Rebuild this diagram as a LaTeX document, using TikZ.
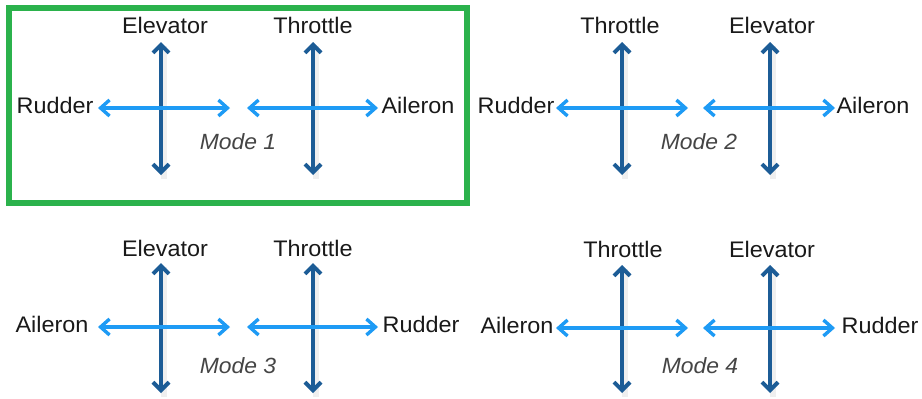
\documentclass[tikz,border=0pt]{standalone}
\usepackage{fontspec}
\setmainfont{Liberation Sans}[FakeStretch=1.04]
\usetikzlibrary{arrows.meta}
\definecolor{darkblue}{HTML}{1C5C96}
\definecolor{lightblue}{HTML}{1E9BF5}
\definecolor{framegreen}{HTML}{2BB24C}
\definecolor{modegray}{HTML}{454545}
\tikzset{
  lbl/.style={inner sep=0pt, font=\fontsize{22.5}{24}\selectfont, text=black!90},
  modelbl/.style={inner sep=0pt, font=\fontsize{22}{24}\selectfont\itshape, text=modegray},
  vshadow/.style={line width=6pt, draw=black!12, opacity=0.5},
  varrow/.style={line width=4pt, draw=darkblue, {Straight Barb[length=8pt,width=16pt]}-{Straight Barb[length=8pt,width=16pt]}},
  harrow/.style={line width=3.4pt, draw=lightblue, {Straight Barb[length=9pt,width=16pt]}-{Straight Barb[length=9pt,width=16pt]}},
  frame/.style={draw=framegreen, line width=5.5pt}
}
\begin{document}
\begin{tikzpicture}[x=1pt,y=-1pt]
\useasboundingbox[fill=white] (0,0) rectangle (922,399);
\draw[frame] (9,8) rectangle (467,203);

% ---------- Panel 1 ----------
\node[lbl] (p1top1) at (165,25) {Elevator};
\node[lbl] (p1top2) at (313,25) {Throttle};
\node[lbl] (p1left) at (55,105) {Rudder};
\node[lbl] (p1right) at (418,105) {Aileron};
\node[modelbl] (p1mode) at (238,142) {Mode 1};
\coordinate (p1va1) at (161,42); \coordinate (p1vb1) at (161,175);
\coordinate (p1va2) at (313,42); \coordinate (p1vb2) at (313,175);
\coordinate (p1ha1) at (98,108); \coordinate (p1hb1) at (230,108);
\coordinate (p1ha2) at (247,108); \coordinate (p1hb2) at (378,108);
\draw[vshadow] ([shift={(3,4)}]p1va1) -- ([shift={(3,4)}]p1vb1);
\draw[vshadow] ([shift={(3,4)}]p1va2) -- ([shift={(3,4)}]p1vb2);
\draw[varrow] (p1va1) -- (p1vb1);
\draw[varrow] (p1va2) -- (p1vb2);
\draw[harrow] (p1ha1) -- (p1hb1);
\draw[harrow] (p1ha2) -- (p1hb2);

% ---------- Panel 2 ----------
\node[lbl] (p2top1) at (620,25) {Throttle};
\node[lbl] (p2top2) at (772,25) {Elevator};
\node[lbl] (p2left) at (516,105) {Rudder};
\node[lbl] (p2right) at (873,105) {Aileron};
\node[modelbl] (p2mode) at (699,142) {Mode 2};
\coordinate (p2va1) at (622,42); \coordinate (p2vb1) at (622,175);
\coordinate (p2va2) at (770,42); \coordinate (p2vb2) at (770,175);
\coordinate (p2ha1) at (556,108); \coordinate (p2hb1) at (688,108);
\coordinate (p2ha2) at (703,108); \coordinate (p2hb2) at (835,108);
\draw[vshadow] ([shift={(3,4)}]p2va1) -- ([shift={(3,4)}]p2vb1);
\draw[vshadow] ([shift={(3,4)}]p2va2) -- ([shift={(3,4)}]p2vb2);
\draw[varrow] (p2va1) -- (p2vb1);
\draw[varrow] (p2va2) -- (p2vb2);
\draw[harrow] (p2ha1) -- (p2hb1);
\draw[harrow] (p2ha2) -- (p2hb2);

% ---------- Panel 3 ----------
\node[lbl] (p3top1) at (165,248) {Elevator};
\node[lbl] (p3top2) at (313,248) {Throttle};
\node[lbl] (p3left) at (52,324) {Aileron};
\node[lbl] (p3right) at (421,324) {Rudder};
\node[modelbl] (p3mode) at (238,366) {Mode 3};
\coordinate (p3va1) at (161,263); \coordinate (p3vb1) at (161,393);
\coordinate (p3va2) at (313,263); \coordinate (p3vb2) at (313,393);
\coordinate (p3ha1) at (98,327); \coordinate (p3hb1) at (230,327);
\coordinate (p3ha2) at (247,327); \coordinate (p3hb2) at (378,327);
\draw[vshadow] ([shift={(3,4)}]p3va1) -- ([shift={(3,4)}]p3vb1);
\draw[vshadow] ([shift={(3,4)}]p3va2) -- ([shift={(3,4)}]p3vb2);
\draw[varrow] (p3va1) -- (p3vb1);
\draw[varrow] (p3va2) -- (p3vb2);
\draw[harrow] (p3ha1) -- (p3hb1);
\draw[harrow] (p3ha2) -- (p3hb2);

% ---------- Panel 4 ----------
\node[lbl] (p4top1) at (623,249) {Throttle};
\node[lbl] (p4top2) at (772,249) {Elevator};
\node[lbl] (p4left) at (517,325) {Aileron};
\node[lbl] (p4right) at (880,325) {Rudder};
\node[modelbl] (p4mode) at (700,366) {Mode 4};
\coordinate (p4va1) at (622,265); \coordinate (p4vb1) at (622,393);
\coordinate (p4va2) at (770,265); \coordinate (p4vb2) at (770,393);
\coordinate (p4ha1) at (556,328); \coordinate (p4hb1) at (688,328);
\coordinate (p4ha2) at (703,328); \coordinate (p4hb2) at (835,328);
\draw[vshadow] ([shift={(3,4)}]p4va1) -- ([shift={(3,4)}]p4vb1);
\draw[vshadow] ([shift={(3,4)}]p4va2) -- ([shift={(3,4)}]p4vb2);
\draw[varrow] (p4va1) -- (p4vb1);
\draw[varrow] (p4va2) -- (p4vb2);
\draw[harrow] (p4ha1) -- (p4hb1);
\draw[harrow] (p4ha2) -- (p4hb2);
\end{tikzpicture}
\end{document}
